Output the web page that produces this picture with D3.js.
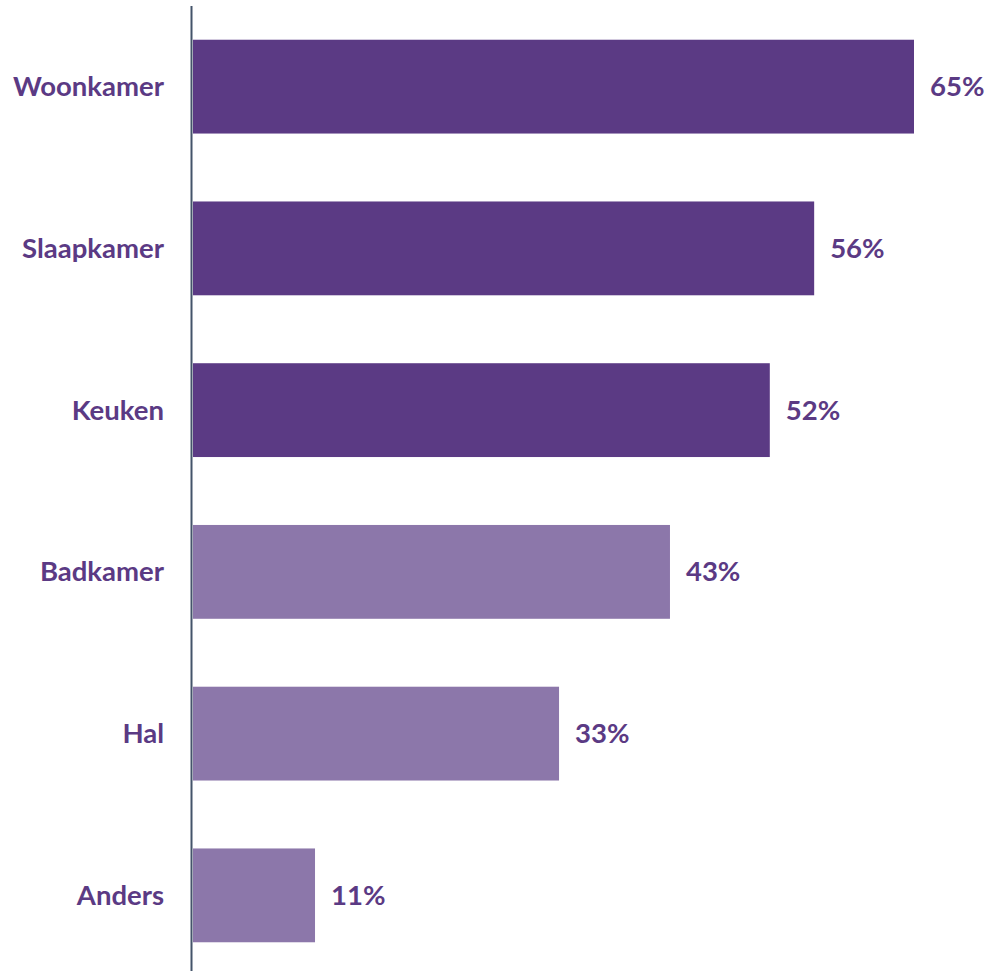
<!DOCTYPE html>
<html><head><meta charset="utf-8">
<script src="https://cdn.jsdelivr.net/npm/d3@7"></script>
<style>body{margin:0;background:#fff}</style>
</head><body>
<svg id="c" width="992" height="971"></svg>
<script>
const categories = ["Woonkamer","Slaapkamer","Keuken","Badkamer","Hal","Anders"];
const values = [65,56,52,43,33,11];
const colorGroups = ["dark","dark","dark","light","light","light"];
const palette = {dark:"#5B3A84", light:"#8C77AA"};

const svg = d3.select("#c");
const x = d3.scaleLinear().domain([0,65]).range([193,914]);
const y = d3.scaleBand().domain(categories).range([9,973]).paddingInner(0.42).paddingOuter(0.19);

svg.selectAll("rect.bar").data(categories).join("rect")
  .attr("class","bar")
  .attr("x", x(0))
  .attr("y", d=>y(d))
  .attr("width", (d,i)=>x(values[i])-x(0))
  .attr("height", y.bandwidth())
  .attr("fill", (d,i)=>palette[colorGroups[i]]);

const font = "Lato, 'Open Sans', sans-serif";
svg.selectAll("text.cat").data(categories).join("text")
  .attr("class","cat")
  .attr("x",164)
  .attr("y", d=>y(d)+y.bandwidth()/2)
  .attr("dy","0.35em")
  .attr("text-anchor","end")
  .attr("font-family",font).attr("font-weight","bold").attr("font-size",27.5)
  .attr("fill","#5B3A84")
  .text(d=>d);

svg.selectAll("text.val").data(categories).join("text")
  .attr("class","val")
  .attr("x",(d,i)=>x(values[i])+16)
  .attr("y", d=>y(d)+y.bandwidth()/2)
  .attr("dy","0.35em")
  .attr("font-family",font).attr("font-weight","bold").attr("font-size",27.5)
  .attr("fill","#5B3A84")
  .text((d,i)=>values[i]+"%");

svg.append("line")
  .attr("x1",191.5).attr("x2",191.5).attr("y1",6).attr("y2",971)
  .attr("stroke","#44546A").attr("stroke-width",2);
</script>
</body></html>
